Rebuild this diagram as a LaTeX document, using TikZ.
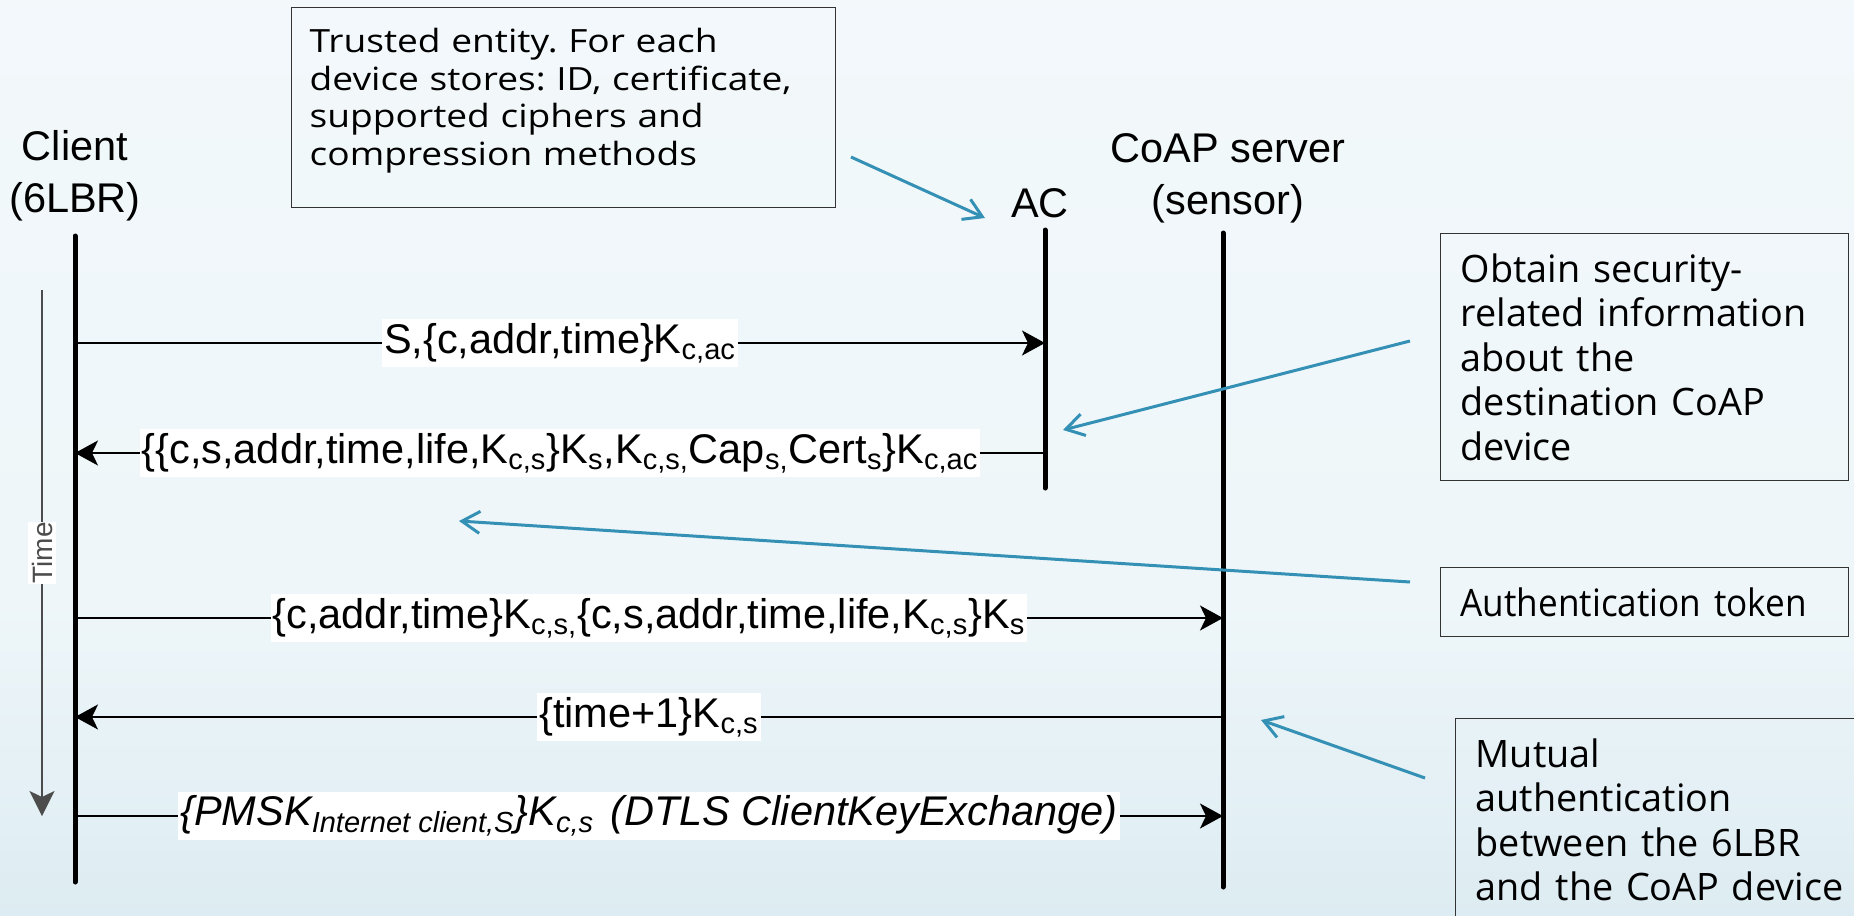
\documentclass[tikz,border=0pt]{standalone}
\usepackage{fontspec}
\setmainfont{Liberation Sans}
\newfontfamily\notefont{Open Sans}
\newfontfamily\widenote[FakeStretch=1.16]{Open Sans}
\newfontfamily\slimnote[FakeStretch=0.93]{Open Sans}
\usetikzlibrary{arrows.meta}

\definecolor{notecol}{RGB}{52,144,180}
\definecolor{bgtop}{RGB}{246,250,252}
\definecolor{bgmid}{RGB}{238,246,249}
\definecolor{bglow}{RGB}{214,232,239}
\definecolor{bgbot}{RGB}{184,213,226}

\pgfdeclareverticalshading{slide}{100bp}{color(0bp)=(bgbot); color(18bp)=(bglow); color(42bp)=(bgmid); color(100bp)=(bgtop)}

\newcommand*{\lo}[1]{\textsubscript{#1}}

\begin{document}
\frenchspacing
\begin{tikzpicture}[x=0.5pt, y=-0.5pt]

\tikzstyle{every node} = [inner sep=0pt]
\tikzstyle{head} = [font=\fontsize{20.75}{26}\selectfont, align=center]
\tikzstyle{life} = [line width=2.5pt, line cap=round]
\tikzstyle{msg} = [line width=1pt, -{Stealth[length=11.5pt, width=12.5pt, inset=3pt]}]
\tikzstyle{lbl} = [fill=white, inner xsep=1pt, inner ysep=2pt, font=\fontsize{20.75}{25}\selectfont]
\tikzstyle{note} = [draw=black!80, line width=0.7pt, align=left, anchor=north west, inner xsep=10pt, inner ysep=10pt, font=\notefont\fontsize{18.9}{22.25}\selectfont]
\tikzstyle{hint} = [notecol, line width=1.5pt, -{Straight Barb[length=9pt, width=11pt]}]

\shade[shading=slide] (0,0) rectangle (1854,916);
\useasboundingbox (0,0) rectangle (1854,916);
\clip (0,0) rectangle (1854,916);

\node[head] (cl) at (75,176) {Client\\(6LBR)};
\node[head] (ac) at (1040,203) {AC};
\node[head] (sv) at (1228,178) {CoAP server\\(sensor)};

\coordinate (c0) at (75,236);
\coordinate (c9) at (75,882);
\coordinate (a0) at (1045,230);
\coordinate (a9) at (1045,488);
\coordinate (s0) at (1223,233);
\coordinate (s9) at (1223,887);

\draw[life] (c0) -- (c9);
\draw[life] (a0) -- (a9);
\draw[life] (s0) -- (s9);

\coordinate (t0) at (42,290);
\coordinate (t9) at (42,816);
\draw[black!70, line width=0.8pt, -{Stealth[length=12.5pt, width=12.5pt, inset=3pt]}] (t0) -- node[fill=white, rotate=90, inner xsep=0pt, inner ysep=2pt, font=\fontsize{14}{16}\selectfont] {Time} (t9);

\coordinate (c1) at (75,343);
\coordinate (a1) at (1045,343);
\coordinate (c2) at (75,453);
\coordinate (a2) at (1045,453);
\coordinate (c3) at (75,618);
\coordinate (s3) at (1223,618);
\coordinate (c4) at (75,717);
\coordinate (s4) at (1223,717);
\coordinate (c5) at (75,816);
\coordinate (s5) at (1223,816);

\draw[msg] (c1) -- node[lbl] {S,\{c,addr,time\}K\lo{c,ac}} (a1);
\draw[msg] (a2) -- node[lbl] {\{\{c,s,addr,time,life,K\lo{c,s}\}K\lo{s},K\lo{c,s,}Cap\lo{s,}Cert\lo{s}\}K\lo{c,ac}} (c2);
\draw[msg] (c3) -- node[lbl] {\{c,addr,time\}K\lo{c,s,}\{c,s,addr,time,life,K\lo{c,s}\}K\lo{s}} (s3);
\draw[msg] (s4) -- node[lbl] {\{time+1\}K\lo{c,s}} (c4);
\draw[msg] (c5) -- node[lbl, font=\fontsize{20.75}{25}\selectfont\itshape] {\{PMSK\lo{Internet client,S}\}K\lo{c,s}\hspace{8pt}(DTLS ClientKeyExchange)} (s5);

\node[note, text width=254pt, minimum height=100pt, inner xsep=9pt, font=\widenote\fontsize{16}{18.85}\selectfont] (tr) at (291,7) {Trusted entity. For each\\device stores: ID, certificate,\\supported ciphers and\\compression methods\rule[-11pt]{0pt}{1pt}};
\node[note, text width=184pt] (ob) at (1440,233) {Obtain security-\\related information\\about the\\destination CoAP\\device};
\node[note, text width=184pt, font=\slimnote\fontsize{18.9}{22.25}\selectfont] (au) at (1440,567) {Authentication token};
\node[note, text width=200pt] (mu) at (1455,718) {Mutual\\authentication\\between the 6LBR\\and the CoAP device};

\coordinate (trt) at (851,157);
\coordinate (trh) at (985,218);
\coordinate (obt) at (1410,341);
\coordinate (obh) at (1063,430);
\coordinate (aut) at (1410,582);
\coordinate (auh) at (459,521);
\coordinate (mut) at (1425,778);
\coordinate (muh) at (1261,720);

\draw[hint] (trt) -- (trh);
\draw[hint] (obt) -- (obh);
\draw[hint] (aut) -- (auh);
\draw[hint] (mut) -- (muh);
\end{tikzpicture}
\end{document}
